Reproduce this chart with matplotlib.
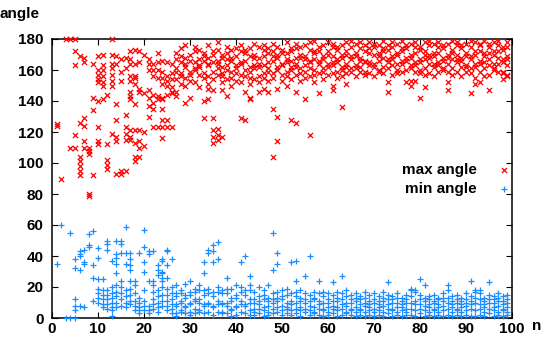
import matplotlib
matplotlib.use("Agg")
import matplotlib.pyplot as plt

# max angle samples for n = 1, 2, 3, ...
max_angle = [
    [125, 124],
    [90],
    [180],
    [180, 110],
    [180, 172, 163, 118, 110],
    [169, 126, 104, 101, 98, 95, 92],
    [168, 165, 129, 124, 114, 110],
    [110, 108, 106, 80, 79],
    [164, 142, 134, 92],
    [169, 160, 157, 154, 152, 140, 123, 114, 112],
    [170, 163, 160, 156, 152, 150, 141],
    [144, 112, 102, 99, 96],
    [180, 170, 164, 161, 157, 153, 150, 119],
    [169, 164, 138, 128, 117, 114, 93],
    [167, 159, 153, 95, 93],
    [168, 161, 131, 123, 119, 115, 95],
    [172, 167, 164, 156, 153, 146, 143, 141, 121, 117, 115],
    [173, 164, 156, 155, 151, 138, 121, 113, 104, 101],
    [172, 165, 148, 146, 121, 114, 110, 104],
    [170, 145, 120, 111],
    [167, 164, 160, 147, 142, 137, 130],
    [164, 160, 156, 144, 139, 135, 123],
    [171, 165, 160, 155, 143, 141, 123],
    [166, 159, 155, 151, 142, 141, 135, 128, 123, 116],
    [165, 156, 153, 150, 144, 128, 123],
    [164, 158, 154, 149, 146, 145, 123],
    [171, 167, 161, 159, 154, 146, 143],
    [174, 169, 165, 158, 156, 151],
    [176, 168, 164, 162, 155, 150, 139],
    [170, 166, 159, 157, 153, 142],
    [175, 172, 165, 161, 160, 152],
    [173, 167, 163, 162, 157, 149],
    [171, 169, 166, 158, 155, 140, 129],
    [176, 168, 164, 163, 156, 151, 148, 141],
    [172, 170, 165, 159, 154, 147, 129, 121, 117, 113],
    [178, 173, 166, 164, 161, 157, 122, 118, 115],
    [170, 168, 162, 158, 156, 152, 147, 117],
    [175, 171, 167, 163, 160, 154, 143],
    [173, 168, 166, 159, 155, 150],
    [174, 169, 163, 161, 158, 153],
    [176, 172, 165, 164, 157, 152, 129],
    [173, 171, 166, 160, 156, 146, 128],
    [174, 169, 162, 159, 155, 151, 142, 141],
    [177, 170, 168, 163, 161, 154],
    [175, 168, 164, 162, 156, 152, 146],
    [176, 173, 169, 163, 158, 155, 148],
    [174, 171, 165, 161, 159, 153, 146],
    [177, 172, 169, 166, 158, 155, 135, 104],
    [175, 170, 168, 162, 160, 148, 130, 114],
    [173, 171, 164, 163, 157, 153],
    [178, 171, 167, 165, 159, 156, 150],
    [174, 172, 166, 162, 160, 154, 128],
    [177, 174, 168, 164, 162, 157, 146, 126],
    [175, 170, 168, 161, 158, 153],
    [176, 169, 167, 163, 159, 155, 141],
    [178, 173, 166, 165, 161, 156, 118],
    [179, 172, 171, 167, 160, 157, 152],
    [175, 172, 166, 164, 158, 145],
    [176, 169, 167, 161, 159, 154],
    [178, 172, 170, 164, 162, 157],
    [177, 175, 169, 165, 163, 158, 150, 147],
    [175, 173, 167, 165, 159, 155],
    [176, 170, 168, 162, 160, 156, 136],
    [178, 172, 170, 164, 162, 158, 151],
    [179, 175, 169, 167, 161, 159],
    [177, 171, 169, 163, 161, 156],
    [178, 174, 168, 166, 162, 159],
    [176, 172, 166, 165, 159, 157],
    [178, 174, 171, 165, 163, 158],
    [177, 175, 170, 164, 162, 156],
    [176, 171, 169, 166, 160, 159],
    [179, 174, 172, 168, 162, 158],
    [176, 173, 167, 165, 161, 152, 146],
    [178, 175, 169, 167, 163, 157],
    [177, 171, 170, 164, 160, 158],
    [179, 174, 172, 166, 164, 159],
    [176, 174, 168, 166, 160, 152],
    [177, 170, 168, 163, 161, 153, 150],
    [178, 175, 171, 165, 163, 159, 153],
    [175, 173, 167, 165, 160, 158, 142],
    [178, 172, 170, 167, 161, 157, 149],
    [179, 176, 170, 168, 164, 158],
    [177, 171, 169, 164, 162, 156],
    [178, 175, 171, 165, 163, 159],
    [176, 174, 168, 166, 161, 160],
    [177, 170, 168, 164, 159, 152, 147],
    [179, 173, 171, 167, 161, 157],
    [178, 176, 170, 167, 165, 159],
    [176, 174, 168, 166, 162, 156],
    [177, 171, 169, 163, 162, 159],
    [179, 175, 169, 167, 161, 158, 145],
    [178, 172, 170, 164, 162, 155, 151],
    [177, 176, 172, 166, 164, 159, 152],
    [179, 171, 169, 165, 161, 156],
    [177, 175, 171, 167, 163, 157, 147],
    [178, 172, 170, 164, 161, 160],
    [179, 176, 172, 168, 164, 159],
    [175, 173, 167, 165, 159, 158, 154],
    [178, 175, 169, 167, 163, 157, 156],
]

# min angle samples for n = 1, 2, 3, ...
min_angle = [
    [35],
    [60],
    [0],
    [55, 0],
    [38, 32, 12, 8, 5, 0],
    [43, 41, 40, 31, 8],
    [44, 36, 35, 7],
    [54, 47, 46],
    [56, 34, 26, 11],
    [45, 39, 25, 19, 16, 13, 10],
    [25, 18, 15, 12, 9, 7],
    [50, 48, 44, 18, 15, 12, 9, 6],
    [37, 20, 16, 13, 10, 7, 5, 1],
    [50, 41, 39, 35, 29, 21, 17, 14, 10, 7],
    [50, 48, 42, 24, 20, 16, 12, 8],
    [59, 42, 35, 18, 14, 10, 7],
    [42, 38, 34, 31, 24, 19, 15, 11, 9],
    [24, 21, 16, 11, 8, 5],
    [42, 13, 10, 7, 5, 3],
    [57, 46, 36, 30, 18, 11, 8, 5],
    [43, 41, 24, 8, 5, 3],
    [43, 24, 21, 17, 12, 9, 6],
    [34, 31, 28, 18, 14, 10, 7, 4],
    [38, 37, 30, 29, 26, 24, 20, 15, 11, 8],
    [44, 43, 34, 26, 19, 15, 11, 8, 5],
    [38, 20, 16, 12, 9, 6, 3],
    [21, 16, 14, 9, 8, 3, 1],
    [18, 16, 11, 10, 5, 4],
    [22, 15, 13, 8, 7, 3],
    [24, 17, 15, 10, 9, 4, 2],
    [19, 17, 12, 11, 6, 3],
    [21, 18, 12, 10, 5, 4],
    [36, 29, 18, 15, 9, 8, 3],
    [44, 42, 19, 16, 10, 9, 4],
    [47, 43, 36, 17, 14, 8, 7, 2],
    [49, 38, 20, 17, 11, 9, 4],
    [18, 16, 10, 9, 4, 3],
    [26, 19, 16, 10, 8, 3],
    [19, 13, 11, 6, 5, 1],
    [21, 15, 13, 8, 7, 2],
    [36, 20, 17, 11, 9, 4],
    [40, 18, 15, 9, 8, 3],
    [27, 21, 18, 12, 10, 5, 2],
    [17, 12, 10, 6, 4, 2],
    [20, 14, 11, 9, 6, 3],
    [18, 15, 12, 7, 5, 1],
    [21, 13, 11, 8, 4, 2],
    [55, 31, 16, 12, 10, 6, 3],
    [42, 35, 17, 13, 11, 7, 4],
    [18, 14, 12, 8, 5, 2],
    [19, 15, 10, 7, 6, 3],
    [36, 16, 11, 9, 5, 2],
    [37, 24, 17, 14, 10, 6, 3],
    [18, 13, 11, 7, 5, 1],
    [27, 16, 12, 10, 6, 4],
    [40, 15, 11, 8, 5, 2],
    [17, 13, 12, 7, 4, 3],
    [24, 16, 11, 9, 6, 2],
    [17, 14, 10, 6, 5, 1],
    [16, 12, 10, 7, 4, 2],
    [23, 15, 11, 8, 6, 3],
    [17, 13, 11, 7, 5, 1],
    [27, 16, 12, 9, 6, 2],
    [18, 14, 10, 8, 4, 3],
    [15, 12, 10, 6, 5, 2],
    [16, 13, 11, 7, 4, 1],
    [14, 12, 9, 6, 5, 2],
    [17, 13, 10, 8, 4, 1],
    [15, 11, 9, 7, 5, 2],
    [16, 12, 10, 6, 4, 1],
    [14, 11, 9, 7, 5, 2],
    [17, 13, 11, 8, 4, 1],
    [23, 15, 12, 9, 6, 3],
    [14, 12, 10, 6, 5, 1],
    [16, 13, 10, 7, 4, 2],
    [13, 11, 9, 7, 5, 1],
    [15, 12, 10, 6, 4, 2],
    [19, 18, 14, 10, 6, 2],
    [18, 17, 11, 9, 5, 1],
    [25, 15, 12, 9, 6, 3],
    [21, 13, 11, 8, 5, 1],
    [14, 12, 9, 7, 4, 2],
    [15, 11, 10, 6, 5, 1],
    [13, 12, 9, 7, 4, 2],
    [16, 13, 11, 8, 5, 1],
    [21, 18, 13, 10, 6, 2],
    [14, 11, 9, 7, 4, 1],
    [15, 12, 10, 6, 5, 2],
    [13, 11, 9, 7, 4, 1],
    [16, 12, 10, 8, 5, 2],
    [24, 14, 11, 9, 6, 1],
    [18, 17, 13, 10, 5, 1],
    [18, 16, 12, 9, 6, 2],
    [13, 11, 9, 7, 4, 1],
    [23, 15, 12, 10, 6, 3],
    [14, 12, 10, 7, 5, 1],
    [16, 13, 11, 8, 4, 2],
    [14, 11, 9, 6, 5, 1],
    [15, 12, 10, 7, 4, 2],
]

max_label = "max angle"
min_label = "min angle"
x_ticks = [0, 10, 20, 30, 40, 50, 60, 70, 80, 90, 100]
y_ticks = [0, 20, 40, 60, 80, 100, 120, 140, 160, 180]

max_x = [i + 1 for i, vals in enumerate(max_angle) for _ in vals]
max_y = [v for vals in max_angle for v in vals]
min_x = [i + 1 for i, vals in enumerate(min_angle) for _ in vals]
min_y = [v for vals in min_angle for v in vals]

plt.rcParams["font.family"] = ["Liberation Sans", "DejaVu Sans"]
plt.rcParams["font.weight"] = "bold"

fig = plt.figure(figsize=(5.44, 3.38), dpi=100)
ax = fig.add_axes([52 / 544, 1 - 318 / 338, 460 / 544, 279 / 338])

ax.scatter(max_x, max_y, marker="x", s=14, linewidths=0.9, color="#ff0000",
           label=max_label, clip_on=False, zorder=3)
ax.scatter(min_x, min_y, marker="+", s=20, linewidths=0.9, color="#1a8cff",
           label=min_label, clip_on=False, zorder=3)

ax.set_xlim(0, 100)
ax.set_ylim(0, 180)
ax.set_xticks(x_ticks)
ax.set_yticks(y_ticks)
ax.tick_params(direction="in", top=True, right=True, length=4, width=0.8,
               labelsize=11)
ax.tick_params(axis="y", pad=6)
ax.tick_params(axis="x", pad=3)
for sp in ax.spines.values():
    sp.set_linewidth(1.1)

ax.set_xlabel("n", fontsize=11, fontweight="bold")
ax.xaxis.set_label_coords((537 - 52) / 460, -(326 - 318) / 279)
ax.xaxis.label.set_va("center")
ax.set_ylabel("angle", rotation=0, fontsize=11, fontweight="bold")
ax.yaxis.set_label_coords((20 - 52) / 460, (318 - 14) / 279)
ax.yaxis.label.set_va("center")
ax.yaxis.label.set_ha("center")

ax.legend(loc="center right", bbox_to_anchor=(1.03, 0.497), markerfirst=False,
          frameon=False, scatterpoints=1, fontsize=11, handletextpad=0.8,
          labelspacing=0.35, borderaxespad=0)

fig.savefig("out.png", dpi=100)
